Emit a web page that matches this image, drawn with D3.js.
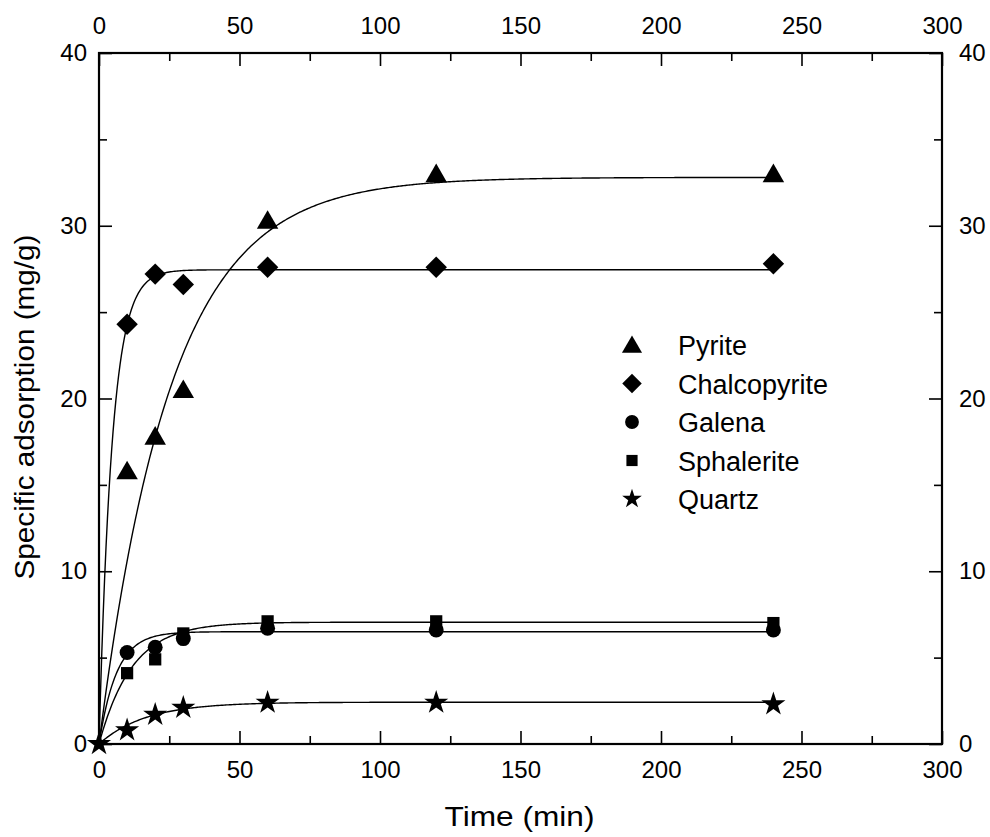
<!DOCTYPE html>
<html>
<head>
<meta charset="utf-8">
<script src="https://cdn.jsdelivr.net/npm/d3@7"></script>
<style>
  html, body { margin: 0; padding: 0; background: #fff; }
  svg { display: block; font-family: "Liberation Sans", Arial, sans-serif; }
</style>
</head>
<body>
<svg id="chart" width="990" height="837"></svg>
<script>
// ---- data ----
const times = [10, 20, 30, 60, 120, 240];
const seriesNames = ["Pyrite", "Chalcopyrite", "Galena", "Sphalerite", "Quartz"];
const pyrite       = [15.8, 17.8, 20.5, 30.3, 33.0, 33.0];
const chalcopyrite = [24.3, 27.2, 26.6, 27.6, 27.6, 27.8];
const galena       = [5.3, 5.6, 6.1, 6.7, 6.6, 6.6];
const sphalerite   = [4.1, 4.9, 6.4, 7.1, 7.1, 7.0];
const quartz       = [0.8, 1.7, 2.1, 2.4, 2.4, 2.3];
// first-order kinetic fit parameters (qe, k) for the drawn curves
const fitQe = [32.8, 27.45, 6.5, 7.05, 2.42];
const fitK  = [0.039, 0.215, 0.16, 0.085, 0.06];
const xTicks = [0, 50, 100, 150, 200, 250, 300];
const yTicks = [0, 10, 20, 30, 40];
const symbols = ["triangle", "diamond", "circle", "square", "star"];
const allValues = [pyrite, chalcopyrite, galena, sphalerite, quartz];

// ---- layout ----
const L = 99, R = 942, T = 53, B = 744;
const svg = d3.select("#chart");
const x = d3.scaleLinear().domain([0, 300]).range([L, R]);
const y = d3.scaleLinear().domain([0, 40]).range([B, T]);

const symType = {
  triangle: d3.symbolTriangle, diamond: d3.symbolSquare, circle: d3.symbolCircle,
  square: d3.symbolSquare, star: d3.symbolStar
};
const symSize = { triangle: 200, diamond: 230, circle: 175, square: 150, star: 180 };
const legSize = { triangle: 175, diamond: 190, circle: 150, square: 125, star: 120 };
const rot = s => (s === "diamond" ? " rotate(45)" : "");

// ---- curves ----
const line = d3.line().x(d => x(d[0])).y(d => y(d[1])).curve(d3.curveLinear);
const tSamples = d3.range(0, 240.001, 0.5);
fitQe.forEach((qe, i) => {
  const pts = tSamples.map(t => [t, qe * (1 - Math.exp(-fitK[i] * t))]);
  svg.append("path").attr("d", line(pts))
    .attr("fill", "none").attr("stroke", "#000").attr("stroke-width", 1.4);
});

// ---- points ----
allValues.forEach((vals, i) => {
  const s = symbols[i];
  const pts = vals.map((v, j) => [times[j], v]);
  if (i === 4) pts.unshift([0, 0]);
  svg.append("g").selectAll("path").data(pts).join("path")
    .attr("transform", d => `translate(${x(d[0])},${y(d[1]) + (s === "triangle" ? 2 : 0)})` + rot(s))
    .attr("d", d3.symbol().type(symType[s]).size(symSize[s]))
    .attr("fill", "#000");
});

// ---- axes ----
function styleAxis(g) {
  g.select(".domain").remove();
  g.selectAll("line").attr("stroke", "#000").attr("stroke-width", 1.6);
  g.attr("font-size", 24).attr("font-family", "Liberation Sans, Arial, sans-serif");
  g.selectAll("text").attr("fill", "#000");
}
const xMinor = d3.range(25, 300, 50);
const yMinor = d3.range(5, 40, 10);

// bottom
svg.append("g").attr("transform", `translate(0,${B})`)
  .call(d3.axisBottom(x).tickValues(xTicks).tickFormat(d3.format("d")).tickSizeInner(-13).tickSizeOuter(0).tickPadding(17))
  .call(styleAxis);
svg.append("g").attr("transform", `translate(0,${B})`)
  .call(d3.axisBottom(x).tickValues(xMinor).tickFormat("").tickSizeInner(-8).tickSizeOuter(0))
  .call(styleAxis);
// top
svg.append("g").attr("transform", `translate(0,${T})`)
  .call(d3.axisTop(x).tickValues(xTicks).tickFormat(d3.format("d")).tickSizeInner(-13).tickSizeOuter(0).tickPadding(19))
  .call(styleAxis);
svg.append("g").attr("transform", `translate(0,${T})`)
  .call(d3.axisTop(x).tickValues(xMinor).tickFormat("").tickSizeInner(-8).tickSizeOuter(0))
  .call(styleAxis);
// left
svg.append("g").attr("transform", `translate(${L},0)`)
  .call(d3.axisLeft(y).tickValues(yTicks).tickFormat(d3.format("d")).tickSizeInner(-13).tickSizeOuter(0).tickPadding(12))
  .call(styleAxis);
svg.append("g").attr("transform", `translate(${L},0)`)
  .call(d3.axisLeft(y).tickValues(yMinor).tickFormat("").tickSizeInner(-8).tickSizeOuter(0))
  .call(styleAxis);
// right
svg.append("g").attr("transform", `translate(${R},0)`)
  .call(d3.axisRight(y).tickValues(yTicks).tickFormat(d3.format("d")).tickSizeInner(-13).tickSizeOuter(0).tickPadding(17))
  .call(styleAxis);
svg.append("g").attr("transform", `translate(${R},0)`)
  .call(d3.axisRight(y).tickValues(yMinor).tickFormat("").tickSizeInner(-8).tickSizeOuter(0))
  .call(styleAxis);

// frame
svg.append("rect").attr("x", L).attr("y", T).attr("width", R - L).attr("height", B - T)
  .attr("fill", "none").attr("stroke", "#000").attr("stroke-width", 2.2);

// ---- titles ----
svg.append("text").attr("x", (L + R) / 2 - 1).attr("y", 826).attr("text-anchor", "middle")
  .attr("font-size", 28).attr("textLength", 150).attr("lengthAdjust", "spacingAndGlyphs")
  .text("Time (min)");
svg.append("text").attr("transform", "translate(34,407) rotate(-90)").attr("text-anchor", "middle")
  .attr("font-size", 28).attr("textLength", 345).attr("lengthAdjust", "spacingAndGlyphs")
  .text("Specific adsorption (mg/g)");

// ---- legend ----
const leg = svg.append("g");
seriesNames.forEach((name, i) => {
  const by = 355 + i * 38.5;
  const s = symbols[i];
  leg.append("path")
    .attr("transform", `translate(632,${by - 10 + (s === "triangle" ? 2 : 0)})` + rot(s))
    .attr("d", d3.symbol().type(symType[s]).size(legSize[s])).attr("fill", "#000");
  leg.append("text").attr("x", 678).attr("y", by).attr("font-size", 27).text(name);
});
</script>
</body>
</html>
